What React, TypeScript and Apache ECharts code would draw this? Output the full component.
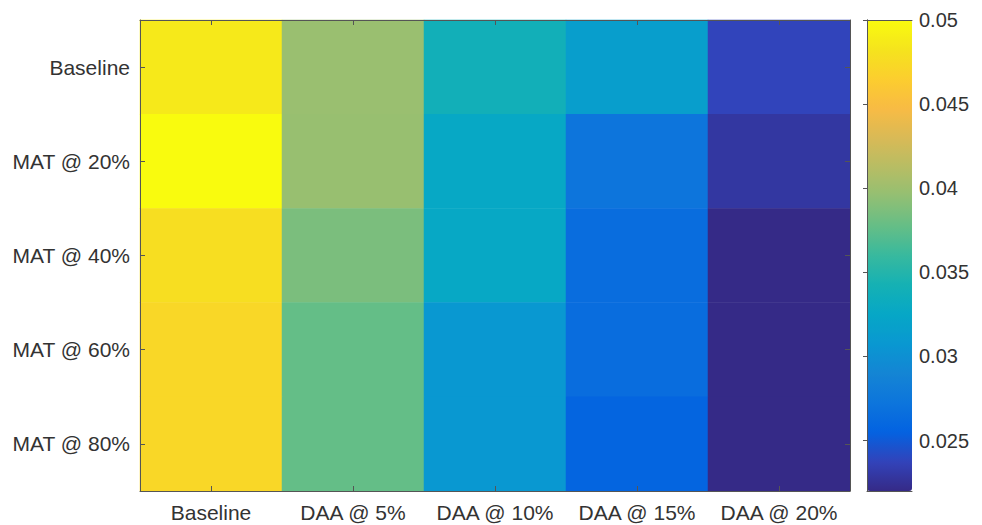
import React, { useEffect, useRef } from "react";
import * as echarts from "echarts";

const columns = ["Baseline", "DAA @ 5%", "DAA @ 10%", "DAA @ 15%", "DAA @ 20%"];
const rows = ["Baseline", "MAT @ 20%", "MAT @ 40%", "MAT @ 60%", "MAT @ 80%"];

const baselineRow = [0.0486, 0.0399, 0.0339, 0.0315, 0.0238];
const mat20Row = [0.05, 0.0398, 0.0326, 0.0273, 0.0229];
const mat40Row = [0.0478, 0.0386, 0.0326, 0.0265, 0.022];
const mat60Row = [0.0472, 0.0377, 0.0308, 0.0265, 0.022];
const mat80Row = [0.0472, 0.0377, 0.0308, 0.0257, 0.022];

const colorMin = 0.022;
const colorMax = 0.05;

const parula = [
  "#352a87", "#3243ba", "#0363e1", "#0d75dc", "#1485d4", "#0998d1",
  "#06a7c6", "#15b1b4", "#38b99e", "#65be86", "#92bf73", "#b7bd64",
  "#d9ba56", "#f8bb44", "#fcce2e", "#f5e41d", "#f9fb0e",
];

const FONT = "'Liberation Sans', Arial, Helvetica, sans-serif";
const TXT = "#333333";
const LINE = "#555555";

export default function App() {
  const ref = useRef<HTMLDivElement>(null);
  useEffect(() => {
    if (!ref.current) return;
    const chart = echarts.init(ref.current, undefined, { renderer: "svg" });
    const table = [baselineRow, mat20Row, mat40Row, mat60Row, mat80Row];
    const data: number[][] = [];
    table.forEach((r, yi) => r.forEach((v, xi) => data.push([xi, yi, v])));

    const lineStyle = { color: LINE, width: 1 };
    chart.setOption({
      animation: false,
      backgroundColor: "#ffffff",
      textStyle: { fontFamily: FONT },
      grid: [
        { left: 140, top: 20, right: 132, bottom: 34, show: false },
        { left: 867, top: 20, width: 45, height: 471, show: false },
      ],
      xAxis: [
        {
          type: "category", data: columns, gridIndex: 0, position: "bottom",
          axisLine: { show: true, lineStyle },
          axisTick: { show: true, inside: true, alignWithLabel: true, length: 5, lineStyle },
          axisLabel: { color: TXT, fontSize: 21, fontFamily: FONT, margin: 11, interval: 0, hideOverlap: false },
          splitLine: { show: false }, z: 10,
        },
        {
          type: "category", data: columns, gridIndex: 0, position: "top",
          axisLine: { show: true, lineStyle },
          axisTick: { show: true, inside: true, alignWithLabel: true, length: 5, lineStyle },
          axisLabel: { show: false }, splitLine: { show: false }, z: 10,
        },
        {
          type: "value", gridIndex: 1, position: "bottom", min: 0, max: 1,
          axisLine: { show: true, lineStyle }, axisTick: { show: false },
          axisLabel: { show: false }, splitLine: { show: false }, z: 10,
        },
        {
          type: "value", gridIndex: 1, position: "top", min: 0, max: 1,
          axisLine: { show: true, lineStyle }, axisTick: { show: false },
          axisLabel: { show: false }, splitLine: { show: false }, z: 10,
        },
      ],
      yAxis: [
        {
          type: "category", data: rows, gridIndex: 0, inverse: true, position: "left",
          axisLine: { show: true, lineStyle },
          axisTick: { show: true, inside: true, alignWithLabel: true, length: 5, lineStyle },
          axisLabel: { color: TXT, fontSize: 21, fontFamily: FONT, margin: 10, interval: 0 },
          splitLine: { show: false }, z: 10,
        },
        {
          type: "category", data: rows, gridIndex: 0, inverse: true, position: "right",
          axisLine: { show: true, lineStyle },
          axisTick: { show: true, inside: true, alignWithLabel: true, length: 5, lineStyle },
          axisLabel: { show: false }, splitLine: { show: false }, z: 10,
        },
        {
          type: "value", gridIndex: 1, position: "right", min: colorMin, max: colorMax,
          axisLine: { show: true, lineStyle },
          axisTick: { show: true, inside: true, length: 4, lineStyle },
          axisLabel: { color: TXT, fontSize: 20, fontFamily: FONT, margin: 7, showMinLabel: false },
          splitLine: { show: false }, z: 10,
        },
        {
          type: "value", gridIndex: 1, position: "left", min: colorMin, max: colorMax,
          axisLine: { show: true, lineStyle }, axisTick: { show: false },
          axisLabel: { show: false }, splitLine: { show: false }, z: 10,
        },
      ],
      visualMap: {
        type: "continuous",
        min: colorMin,
        max: colorMax,
        seriesIndex: 0,
        calculable: false,
        orient: "vertical",
        left: 867,
        top: 20,
        itemWidth: 45,
        itemHeight: 471,
        padding: 0,
        text: ["", ""],
        inRange: { color: parula },
      },
      series: [
        {
          type: "heatmap",
          xAxisIndex: 0,
          yAxisIndex: 0,
          data,
          itemStyle: { borderWidth: 0 },
          emphasis: { disabled: true },
        },
      ],
    });
    return () => chart.dispose();
  }, []);
  return (
    <div
      ref={ref}
      style={{ position: "fixed", left: 0, top: 0, width: 982, height: 525 }}
    />
  );
}
